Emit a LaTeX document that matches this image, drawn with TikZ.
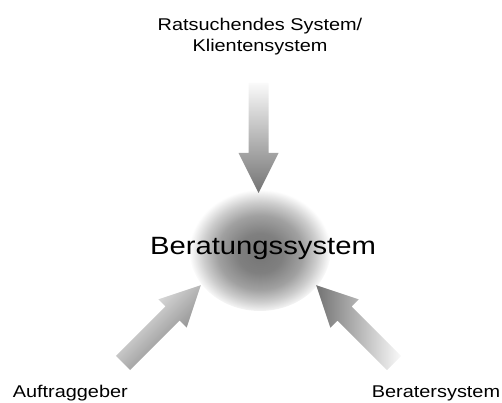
\documentclass[tikz,border=0pt]{standalone}
\usepackage{fontspec}
\setmainfont{Liberation Sans}[FakeStretch=1.17]
\pgfdeclareradialshading{blobshade}{\pgfpoint{0bp}{-2bp}}{%
  color(0bp)=(black!54); color(8bp)=(black!50); color(15bp)=(black!37); color(20bp)=(black!20); color(23bp)=(black!8); color(25bp)=(white); color(50bp)=(white)}
\tikzset{
  lbl/.style={inner sep=0pt, font=\fontsize{17}{21}\selectfont, align=center},
  mainlbl/.style={inner sep=0pt, font=\fontsize{25}{30}\selectfont},
  fatarrow/.style={draw=none, left color=black!2, right color=black!55}
}
\newcommand{\fatarrowpath}{(0,-10) -- (70,-10) -- (70,-20) -- (110,0) -- (70,20) -- (70,10) -- (0,10) -- cycle}
\begin{document}
\begin{tikzpicture}[x=1pt,y=1pt]
\useasboundingbox (0,0) rectangle (502,403);
% central blob
\shade[shading=blobshade] (260,154) ellipse [x radius=71, y radius=62];
\node[mainlbl, anchor=base] (center) at (263,148) {Beratungssystem};
% labels
\node[lbl, anchor=north] (client) at (260,385) {Ratsuchendes System/\\Klientensystem};
\node[lbl, anchor=base] (auftrag) at (70.3,5) {Auftraggeber};
\node[lbl, anchor=base] (berater) at (436,5) {Beratersystem};
% arrow end points
\coordinate (ttail) at (258.5,320);
\coordinate (ltail) at (123,40);
\coordinate (rtail) at (394,40);
% top arrow
\begin{scope}[shift={(ttail)}, rotate=-90]
  \shade[draw=none, top color=black!2, bottom color=black!55] \fatarrowpath;
\end{scope}
% left arrow
\begin{scope}[shift={(ltail)}, rotate=45]
  \shade[fatarrow, shading angle=45] \fatarrowpath;
\end{scope}
% right arrow
\begin{scope}[shift={(rtail)}, rotate=135]
  \shade[fatarrow, shading angle=-45, left color=black!55, right color=black!2] \fatarrowpath;
\end{scope}
\end{tikzpicture}
\end{document}
